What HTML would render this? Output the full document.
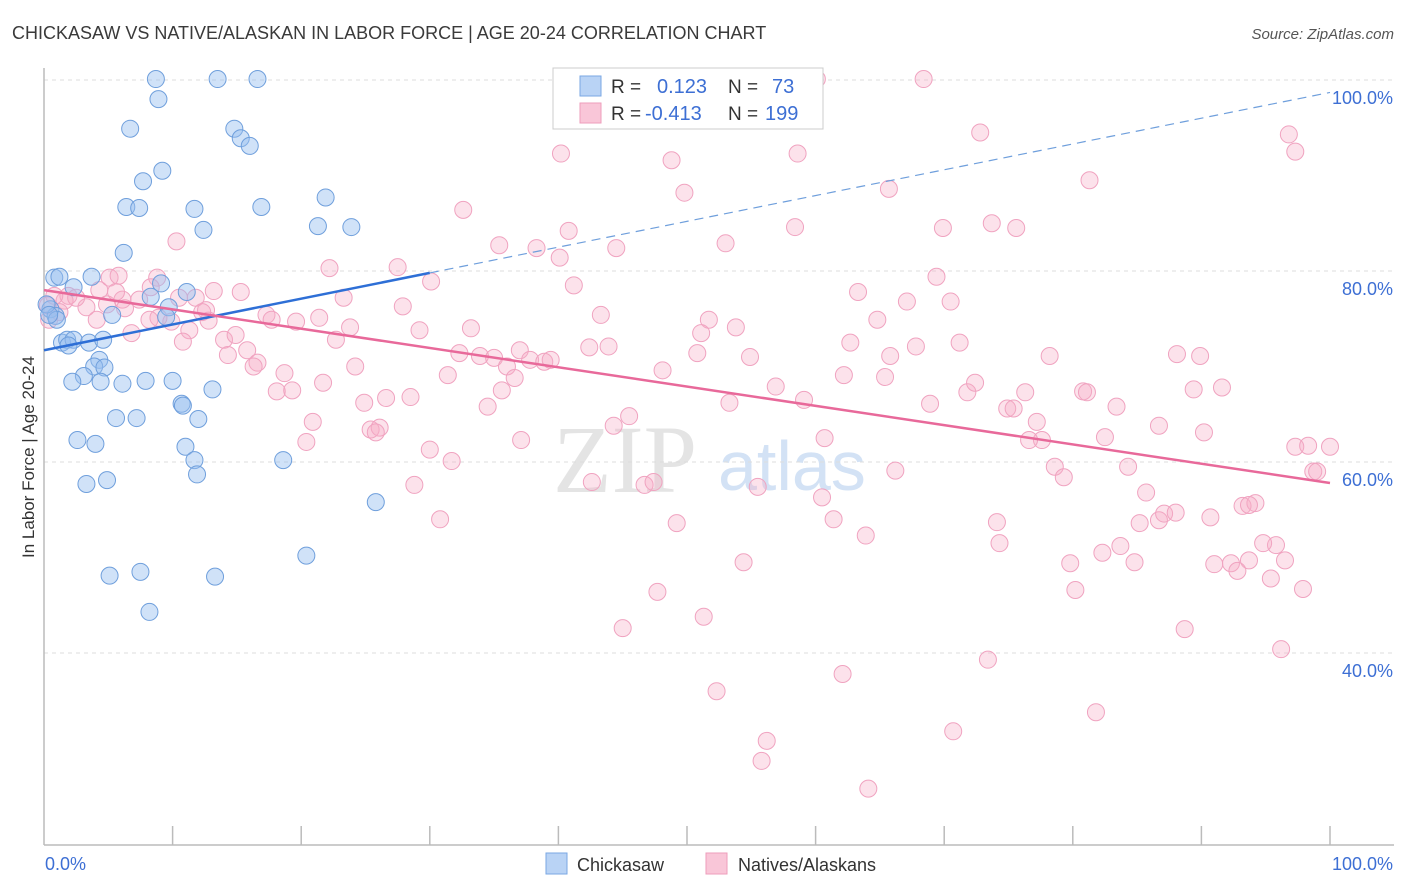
<!DOCTYPE html>
<html><head><meta charset="utf-8"><style>
body{margin:0;background:#fff;font-family:"Liberation Sans",sans-serif;}
svg{display:block}
</style></head><body>
<svg id="chart" width="1406" height="892">
<text x="12" y="39" font-size="18" fill="#3a3a3a">CHICKASAW VS NATIVE/ALASKAN IN LABOR FORCE | AGE 20-24 CORRELATION CHART</text>
<text x="1394" y="39" font-size="15" fill="#555" text-anchor="end" font-style="italic">Source: ZipAtlas.com</text>
<g>
<text x="553" y="492" font-size="96" font-family="Liberation Serif,serif" fill="#e4e4e4">ZIP</text>
<text x="718" y="490" font-size="70" fill="#d3e2f5">atlas</text>
</g>
<g id="grid"></g>
<g id="axes"></g>
<text transform="translate(34,457) rotate(-90)" font-size="17" fill="#333" text-anchor="middle">In Labor Force | Age 20-24</text>
<g id="pts"></g>
<g id="trend"></g>
<g>
<rect x="553" y="68" width="270" height="61" fill="#fff" stroke="#ccc"/>
<rect x="580" y="76" width="21" height="20" fill="#b9d3f5" stroke="#7aa7e3"/>
<rect x="580" y="103" width="21" height="20" fill="#f9c6d8" stroke="#ee9dbb"/>
<text x="611" y="93" font-size="19" fill="#333">R = </text><text x="657" y="93" font-size="20" fill="#3d6fd4">0.123</text>
<text x="728" y="93" font-size="19" fill="#333">N = </text><text x="772" y="93" font-size="20" fill="#3d6fd4">73</text>
<text x="611" y="120" font-size="19" fill="#333">R = </text><text x="645" y="120" font-size="20" fill="#3d6fd4">-0.413</text>
<text x="728" y="120" font-size="19" fill="#333">N = </text><text x="765" y="120" font-size="20" fill="#3d6fd4">199</text>
</g>
<g>
<rect x="546" y="853" width="21" height="21" fill="#b9d3f5" stroke="#7aa7e3"/>
<text x="577" y="871" font-size="18" fill="#333">Chickasaw</text>
<rect x="706" y="853" width="21" height="21" fill="#f9c6d8" stroke="#ee9dbb"/>
<text x="738" y="871" font-size="18" fill="#333">Natives/Alaskans</text>
</g>
</svg>
<script>
const xTicks=[0,10,20,30,40,50,60,70,80,90,100];
const yTicks=[40,60,80,100];
const yTickLabels=["40.0%","60.0%","80.0%","100.0%"];
const blueX=[8.7,13.5,16.6,8.9,6.7,14.8,15.3,16.0,9.2,7.7,6.4,7.4,11.7,12.4,16.9,21.9,21.3,23.9,6.2,0.8,1.2,3.7,9.1,8.3,2.3,11.1,9.7,9.5,5.3,0.5,0.9,0.2,1.4,1.8,2.3,1.9,3.5,4.6,4.3,3.9,4.7,3.1,2.2,4.4,6.1,7.9,10.0,13.1,10.7,10.8,5.6,7.2,12.0,2.6,4.0,11.0,11.7,11.9,18.6,3.3,4.9,25.8,20.4,5.1,7.5,13.3,8.2,1.0,0.4];
const blueY=[100.1,100.1,100.1,98.0,94.9,94.9,93.9,93.1,90.5,89.4,86.7,86.6,86.5,84.3,86.7,87.7,84.7,84.6,81.9,79.3,79.4,79.4,78.7,77.3,78.3,77.8,76.2,75.2,75.4,76.0,75.3,76.5,72.5,72.8,72.8,72.2,72.5,72.8,70.7,70.0,69.9,69.0,68.4,68.4,68.2,68.5,68.5,67.6,66.1,65.9,64.6,64.6,64.5,62.3,61.9,61.6,60.2,58.7,60.2,57.7,58.1,55.8,50.2,48.1,48.5,48.0,44.3,74.9,75.4];
const pinkX=[68.4,60.1,59.1,45.8,72.8,40.2,48.8,58.6,49.8,81.3,65.7,32.6,40.8,35.4,38.3,40.1,44.5,53.0,58.4,69.9,73.7,75.6,10.3,22.2,27.5,30.1,41.2,97.3,96.8,69.4,63.3,70.5,67.1,64.8,51.7,53.8,51.1,62.7,71.2,67.8,65.8,54.9,50.8,43.3,29.2,33.2,27.9,23.3,21.4,19.6,17.3,17.7,15.3,13.2,12.6,12.8,11.3,10.8,14.0,14.9,15.8,16.6,14.3,9.9,8.9,8.2,6.8,6.1,4.9,4.3,5.1,5.8,5.6,8.8,3.3,1.9,1.6,0.8,0.4,0.3,1.2,2.5,4.1,6.3,7.4,8.3,10.5,11.8,12.3,22.7,23.8,24.2,24.9,26.6,28.5,25.4,26.1,25.8,21.7,20.9,20.4,18.7,18.1,19.3,16.3,30.0,31.7,28.8,30.8,31.4,32.3,33.9,35.0,36.0,37.0,36.6,34.5,35.6,37.8,38.9,39.4,42.4,43.9,48.1,45.5,44.3,37.1,42.6,46.7,47.4,49.2,53.3,56.9,59.1,60.7,62.2,65.4,68.9,71.8,72.4,74.9,75.4,76.3,77.2,77.6,76.6,78.2,80.8,83.4,82.5,86.7,88.1,89.9,89.4,91.6,90.2,84.3,85.7,78.6,79.3,86.7,87.1,88.0,85.2,83.7,82.3,84.8,79.8,80.2,74.1,66.2,63.9,61.4,60.5,55.5,54.4,51.3,47.7,45.0,52.3,56.2,55.8,64.1,70.7,62.1,73.4,81.8,88.7,96.2,97.9,95.4,93.7,96.5,95.8,94.8,91.0,92.3,92.8,93.2,94.2,90.7,97.3,100.0,98.3,98.7,99.0,93.7,74.3,81.1];
const pinkY=[100.1,100.1,100,96.3,94.5,92.3,91.6,92.3,88.2,89.5,88.6,86.4,84.2,82.7,82.4,81.4,82.4,82.9,84.6,84.5,85.0,84.5,83.1,80.3,80.4,78.9,78.5,92.5,94.3,79.4,77.8,76.8,76.8,74.9,74.9,74.1,73.5,72.5,72.5,72.1,71.1,71.0,71.4,75.4,73.8,74.0,76.3,77.2,75.1,74.7,75.4,74.9,77.8,77.9,75.9,74.8,73.8,72.6,72.8,73.3,71.7,70.4,71.2,74.7,75.1,74.9,73.5,77.0,76.5,78.0,79.3,79.5,77.8,79.3,76.2,77.4,76.9,77.4,74.9,76.4,75.7,77.2,74.9,76.1,77.0,78.3,77.2,77.2,75.7,72.8,74.1,70.0,66.2,66.7,66.8,63.4,63.6,63.1,68.3,64.2,62.1,69.3,67.4,67.5,70.0,61.3,60.1,57.6,54.0,69.1,71.4,71.1,70.9,70.0,71.7,68.8,65.8,67.5,70.7,70.5,70.7,72.0,72.1,69.6,64.8,63.8,62.3,57.9,57.6,57.9,53.6,66.2,67.9,66.5,62.5,69.1,68.9,66.1,67.3,68.3,65.6,65.6,67.3,64.2,62.3,62.3,71.1,67.4,65.8,62.6,63.8,71.3,71.1,67.6,67.8,63.1,59.5,56.8,59.5,58.4,53.9,54.6,54.7,53.6,51.2,50.5,49.5,49.4,46.6,53.7,59.1,52.3,54.0,56.3,57.4,49.5,43.8,46.4,42.6,36.0,30.8,28.7,25.8,31.8,37.8,39.3,33.8,42.5,40.4,46.7,47.8,49.7,49.7,51.3,51.5,49.3,49.4,48.6,55.4,55.7,54.2,61.6,61.6,61.7,59.0,59.0,55.5,51.5,67.3];
const blueTrend=[71.7,98.7];
const pinkTrend=[78.0,57.8];
const NS="http://www.w3.org/2000/svg";
const sx=v=>44+v*12.86;
const sy=v=>80+(100-v)*9.55;
function mk(tag,attrs,parent){const e=document.createElementNS(NS,tag);for(const k in attrs)e.setAttribute(k,attrs[k]);parent.appendChild(e);return e;}
const grid=document.getElementById('grid'),axes=document.getElementById('axes');
yTicks.forEach((t,i)=>{
 const l=mk('line',{x1:44,x2:1394,y1:sy(t),y2:sy(t),stroke:'#ddd','stroke-dasharray':'4,4'},grid);
 
 
 const tx=mk('text',{x:1393,y:sy(t)+24,'font-size':18,fill:'#3d6fd4','text-anchor':'end'},grid);
 tx.textContent=yTickLabels[i];
 
 
});
const ya=mk('line',{x1:44,x2:44,y1:68,y2:845,stroke:'#bbb','stroke-width':1.5},axes);


const xa=mk('line',{x1:44,x2:1394,y1:845,y2:845,stroke:'#bbb','stroke-width':1.5},axes);


xTicks.forEach(t=>{
 if(t===0)return;
 const l=mk('line',{x1:sx(t),x2:sx(t),y1:826,y2:845,stroke:'#bbb','stroke-width':1.5},axes);
 
 
});
const x0=mk('text',{x:45,y:870,'font-size':18,fill:'#3d6fd4'},axes);x0.textContent='0.0%';


const x1=mk('text',{x:1393,y:870,'font-size':18,fill:'#3d6fd4','text-anchor':'end'},axes);x1.textContent='100.0%';


const pts=document.getElementById('pts');
pinkX.forEach((v,i)=>{
 const c=mk('circle',{cx:sx(v),cy:sy(pinkY[i]),r:8.5,fill:'rgba(246,172,199,0.35)',stroke:'#f0a3c0','stroke-width':1},pts);
 
 
});
blueX.forEach((v,i)=>{
 const c=mk('circle',{cx:sx(v),cy:sy(blueY[i]),r:8.5,fill:'rgba(150,190,240,0.45)',stroke:'#6f9fdc','stroke-width':1},pts);
 
 
});
const tr=document.getElementById('trend');
const bAt=x=>blueTrend[0]+(blueTrend[1]-blueTrend[0])*x/100;
const b1=mk('line',{x1:sx(0),y1:sy(bAt(0)),x2:sx(30),y2:sy(bAt(30)),stroke:'#2e6fd6','stroke-width':2.5},tr);


const b2=mk('line',{x1:sx(30),y1:sy(bAt(30)),x2:sx(100),y2:sy(bAt(100)),stroke:'#6f9fdc','stroke-width':1.2,'stroke-dasharray':'9,6'},tr);


const p1=mk('line',{x1:sx(0),y1:sy(pinkTrend[0]),x2:sx(100),y2:sy(pinkTrend[1]),stroke:'#e8699a','stroke-width':2.5},tr);


</script>
</body></html>
